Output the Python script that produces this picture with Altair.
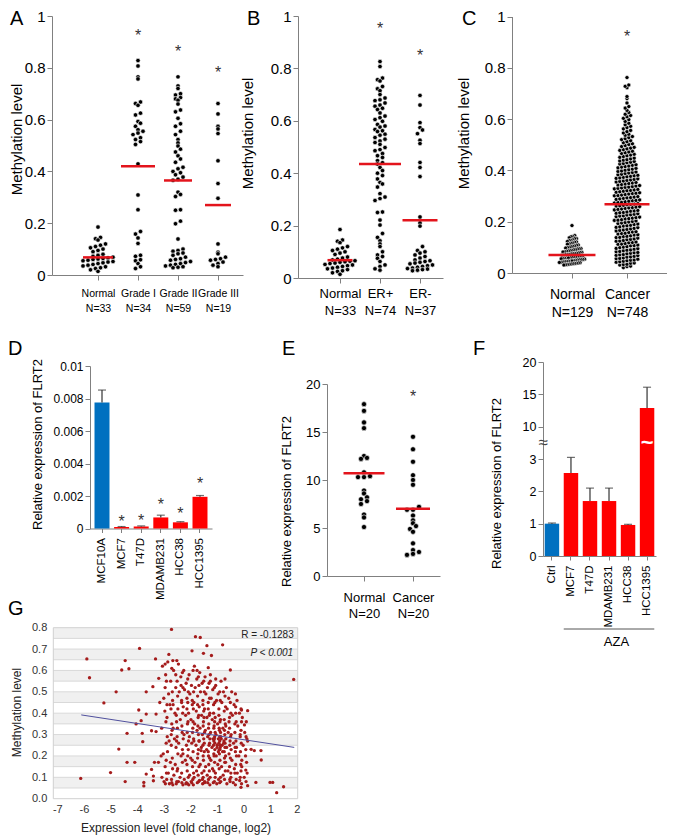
import json
import altair as alt
import pandas as pd

# ============================ DATA ============================
# ---- Panel A : methylation by grade
a_labels = ["Normal", "Grade I", "Grade II", "Grade III"]
a_counts = ["N=33", "N=34", "N=59", "N=19"]
a_normal = [0.185, 0.145, 0.14, 0.135, 0.12, 0.115, 0.11, 0.105, 0.10, 0.095, 0.09,
            0.08, 0.076, 0.072, 0.069, 0.066, 0.064, 0.062, 0.06, 0.057, 0.055, 0.052,
            0.05, 0.047, 0.044, 0.041, 0.038, 0.035, 0.032, 0.028, 0.025, 0.02, 0.014]
a_grade1 = [0.828, 0.807, 0.765, 0.757, 0.668, 0.662, 0.655, 0.625, 0.618, 0.593,
            0.586, 0.574, 0.561, 0.555, 0.548, 0.542, 0.53, 0.523, 0.515, 0.504,
            0.429, 0.309, 0.252, 0.168, 0.158, 0.143, 0.122, 0.076, 0.072, 0.059,
            0.055, 0.044, 0.032, 0.025]
a_grade2 = [0.765, 0.73, 0.72, 0.70, 0.695, 0.685, 0.68, 0.675, 0.66, 0.637,
            0.63, 0.605, 0.584, 0.574, 0.555, 0.542, 0.523, 0.51, 0.498, 0.486,
            0.475, 0.46, 0.448, 0.435, 0.416, 0.41, 0.40, 0.395, 0.387, 0.378,
            0.37, 0.366, 0.32, 0.311, 0.303, 0.252, 0.25, 0.208, 0.198, 0.139,
            0.10, 0.095, 0.092, 0.085, 0.082, 0.076, 0.069, 0.063, 0.06, 0.057,
            0.052, 0.048, 0.044, 0.041, 0.038, 0.035, 0.032, 0.03, 0.028]
a_grade3 = [0.662, 0.622, 0.574, 0.564, 0.546, 0.441, 0.353, 0.296, 0.12, 0.088,
            0.082, 0.069, 0.063, 0.06, 0.057, 0.05, 0.044, 0.038, 0.032]
a_lines = [0.068, 0.42, 0.365, 0.27]
a_stars = [None, 0.94, 0.875, 0.795]

# ---- Panel B : methylation by ER status
b_labels = ["Normal", "ER+", "ER-"]
b_counts = ["N=33", "N=74", "N=37"]
b_normal = a_normal
b_erpos = [0.826, 0.807, 0.763, 0.757, 0.752, 0.731, 0.722, 0.715, 0.70, 0.687,
           0.68, 0.677, 0.668, 0.66, 0.656, 0.648, 0.643, 0.63, 0.618, 0.612,
           0.605, 0.598, 0.586, 0.58, 0.576, 0.567, 0.562, 0.559, 0.549, 0.545,
           0.536, 0.53, 0.523, 0.517, 0.51, 0.498, 0.49, 0.486, 0.475, 0.467,
           0.46, 0.448, 0.44, 0.435, 0.422, 0.41, 0.40, 0.391, 0.378, 0.365,
           0.359, 0.347, 0.322, 0.309, 0.303, 0.296, 0.252, 0.25, 0.221, 0.202,
           0.17, 0.155, 0.142, 0.13, 0.12, 0.10, 0.088, 0.082, 0.075, 0.063,
           0.05, 0.044, 0.035, 0.03]
b_erneg = [0.697, 0.66, 0.593, 0.574, 0.565, 0.551, 0.526, 0.513, 0.441, 0.422,
           0.387, 0.233, 0.21, 0.198, 0.12, 0.105, 0.10, 0.095, 0.088, 0.082,
           0.076, 0.069, 0.066, 0.063, 0.06, 0.057, 0.054, 0.05, 0.047, 0.044,
           0.041, 0.038, 0.036, 0.034, 0.032, 0.03, 0.028]
b_lines = [0.068, 0.435, 0.22]
b_stars = [None, 0.966, 0.864]

# ---- Panel C : normal vs cancer methylation
c_labels = ["Normal", "Cancer"]
c_counts = ["N=129", "N=748"]
c_normal = [0.185, 0.146, 0.142, 0.141, 0.137, 0.134, 0.133, 0.129, 0.127, 0.126,
            0.123, 0.121, 0.12, 0.117, 0.116, 0.113, 0.112, 0.109, 0.108, 0.105,
            0.104, 0.102, 0.1, 0.099, 0.097, 0.095, 0.094, 0.093, 0.091, 0.09,
            0.088, 0.087, 0.086, 0.085, 0.083, 0.082, 0.081, 0.08, 0.078, 0.077,
            0.076, 0.075, 0.074, 0.072, 0.071, 0.07, 0.07, 0.069, 0.067, 0.066,
            0.065, 0.064, 0.063, 0.062, 0.061, 0.059, 0.058, 0.058, 0.057, 0.056,
            0.055, 0.054, 0.053, 0.052, 0.051, 0.05, 0.049, 0.048, 0.047, 0.047,
            0.046, 0.045, 0.044, 0.043, 0.042, 0.041, 0.04, 0.039, 0.038, 0.037,
            0.036, 0.035, 0.034, 0.033, 0.032, 0.031]
c_cancer = [0.021, 0.025, 0.027, 0.031, 0.033, 0.034, 0.038, 0.039, 0.042, 0.044, 0.046, 0.048,
            0.05, 0.051, 0.054, 0.056, 0.057, 0.059, 0.062, 0.063, 0.065, 0.068, 0.069, 0.071,
            0.072, 0.075, 0.077, 0.079, 0.08, 0.083, 0.084, 0.087, 0.089, 0.09, 0.093, 0.095,
            0.096, 0.099,
            0.101, 0.103, 0.106, 0.107, 0.109, 0.112, 0.113, 0.115, 0.118, 0.119, 0.121, 0.124,
            0.125, 0.127, 0.13, 0.131, 0.133, 0.136, 0.138, 0.139, 0.142, 0.143, 0.145, 0.148,
            0.149,
            0.152, 0.154, 0.155, 0.158, 0.16, 0.161, 0.164, 0.166, 0.168, 0.17, 0.172, 0.174,
            0.177, 0.178, 0.18, 0.183, 0.184, 0.186, 0.189, 0.191, 0.193, 0.195, 0.197, 0.199,
            0.201, 0.203, 0.205, 0.206, 0.208, 0.211, 0.212, 0.214, 0.216, 0.218, 0.22, 0.222,
            0.223, 0.226, 0.227, 0.229, 0.231, 0.233, 0.235, 0.236, 0.238, 0.241, 0.242, 0.244,
            0.246, 0.248,
            0.25, 0.252, 0.254, 0.255, 0.257, 0.259, 0.261, 0.262, 0.264, 0.266, 0.268, 0.269,
            0.271, 0.273, 0.275, 0.276, 0.278, 0.28, 0.282, 0.283, 0.285, 0.287, 0.289, 0.291,
            0.293, 0.294, 0.296, 0.298,
            0.301, 0.302, 0.304, 0.306, 0.308, 0.31, 0.311, 0.313, 0.315, 0.317, 0.319, 0.321,
            0.322, 0.324, 0.326, 0.328, 0.33, 0.332, 0.334, 0.335, 0.337, 0.339, 0.341, 0.343,
            0.345, 0.347, 0.349,
            0.351, 0.353, 0.355, 0.357, 0.359, 0.361, 0.363, 0.365, 0.367, 0.369, 0.371, 0.373,
            0.375, 0.377, 0.379, 0.381, 0.383, 0.385, 0.388, 0.39, 0.392, 0.394, 0.396, 0.398,
            0.401, 0.403, 0.405, 0.408, 0.41, 0.413, 0.415, 0.417, 0.42, 0.422, 0.425, 0.427,
            0.43, 0.432, 0.435, 0.437, 0.44, 0.442, 0.445, 0.448,
            0.451, 0.454, 0.457, 0.46, 0.463, 0.466, 0.469, 0.472, 0.475, 0.478, 0.481, 0.484,
            0.487, 0.49, 0.493, 0.497,
            0.501, 0.504, 0.508, 0.512, 0.516, 0.52, 0.524, 0.528, 0.532, 0.537, 0.541, 0.546,
            0.551, 0.556, 0.562, 0.567, 0.572, 0.578, 0.584, 0.591, 0.598,
            0.603, 0.609, 0.614, 0.619, 0.626, 0.634, 0.643, 0.649,
            0.663, 0.68, 0.688, 0.722, 0.728, 0.733, 0.762]
c_lines = [0.07, 0.268]
c_stars = [None, 0.935]

# ---- Panel D : FLRT2 expression in cell lines
d_cells = ["MCF10A", "MCF7", "T47D", "MDAMB231", "HCC38", "HCC1395"]
d_values = [0.00775, 0.0001, 0.00013, 0.00068, 0.00038, 0.00195]
d_upper = [0.00852, 0.00012, 0.00016, 0.00082, 0.00042, 0.00203]
d_stars = [None, 0.00067, 0.0007, 0.00167, 0.00116, 0.00296]

# ---- Panel E : FLRT2 expression normal vs cancer
e_labels = ["Normal", "Cancer"]
e_counts = ["N=20", "N=20"]
e_normal = [17.9, 17.2, 16.0, 15.4, 12.5, 12.3, 12.2, 10.8, 10.4, 10.3, 10.3,
            8.9, 8.6, 8.2, 8.0, 7.8, 7.5, 6.4, 6.1, 5.1]
e_cancer = [14.5, 13.2, 11.9, 10.5, 10.0, 9.5, 7.2, 6.9, 6.9, 6.3, 5.8, 5.5,
            5.2, 4.9, 4.6, 3.4, 2.7, 2.5, 2.3, 2.2]
e_lines = [10.7, 7.0]
e_stars = [None, 19.1]

# ---- Panel F : FLRT2 expression after AZA
f_cells = ["Ctrl", "MCF7", "T47D", "MDAMB231", "HCC38", "HCC1395"]
f_values = [1.0, 2.57, 1.7, 1.7, 0.96, 12.9]
f_upper = [1.02, 3.05, 2.1, 2.1, 0.98, 16.1]
f_ticks = [0, 1, 2, 3, 10, 15, 20]
f_group = "AZA"

# ---- Panel G : methylation vs expression scatter
g_points = [
    (-6.12, 0.095), (-5.89, 0.654), (-5.79, 0.566), (-5.25, 0.448), (-5.0, 0.122),
    (-4.79, 0.50), (-4.69, 0.232), (-4.58, 0.602), (-4.45, 0.646), (-4.45, 0.08),
    (-4.38, 0.306), (-4.38, 0.17), (-4.31, 0.608), (-4.09, 0.17), (-3.91, 0.703),
    (-3.94, 0.415), (-4.04, 0.35), (-3.85, 0.365), (-3.81, 0.306), (-3.79, 0.267),
    (-3.66, 0.50), (-3.66, 0.396), (-3.75, 0.076), (-3.75, 0.06), (-3.41, 0.524),
    (-3.31, 0.654), (-3.29, 0.396), (-3.29, 0.314), (-3.46, 0.318), (-3.19, 0.563),
    (-3.35, 0.17), (-3.46, 0.137), (-3.66, 0.115), (-3.39, 0.106), (-3.39, 0.084),
    (-2.71, 0.792), (-2.81, 0.675), (-2.66, 0.646), (-2.51, 0.646), (-2.95, 0.63),
    (-1.81, 0.758), (-1.63, 0.754), (-1.94, 0.692), (-1.38, 0.716), (-1.51, 0.68),
    (-1.21, 0.67), (-0.79, 0.72), (-0.5, 0.602), (-1.33, 0.613), (0.03, 0.345),
    (0.09, 0.29), (-0.08, 0.415), (-0.31, 0.49), (0.15, 0.412), (0.28, 0.231),
    (0.4, 0.225), (0.65, 0.225), (0.66, 0.181), (0.46, 0.076), (0.15, 0.061),
    (-0.1, 0.053), (0.08, 0.134), (0.99, 0.076), (1.09, 0.076), (1.5, 0.056),
    (1.24, 0.028), (1.88, 0.558),
    (-3.05, 0.62), (-2.93, 0.58), (-3.0, 0.47), (-2.96, 0.41), (-3.08, 0.33), (-2.91, 0.26),
    (-3.02, 0.21), (-2.95, 0.15), (-3.07, 0.10), (-2.99, 0.08), (-2.94, 0.07),
    (-2.85, 0.64), (-2.74, 0.55), (-2.82, 0.49), (-2.77, 0.44), (-2.88, 0.38), (-2.72, 0.30),
    (-2.8, 0.27), (-2.86, 0.22), (-2.75, 0.17), (-2.83, 0.12), (-2.71, 0.09), (-2.79, 0.07),
    (-2.63, 0.60), (-2.55, 0.52), (-2.67, 0.46), (-2.58, 0.40), (-2.52, 0.36), (-2.65, 0.33),
    (-2.6, 0.28), (-2.54, 0.24), (-2.68, 0.19), (-2.57, 0.16), (-2.62, 0.11), (-2.51, 0.08),
    (-2.66, 0.065),
    (-2.45, 0.63), (-2.36, 0.57), (-2.42, 0.50), (-2.33, 0.45), (-2.47, 0.42), (-2.38, 0.37),
    (-2.31, 0.31), (-2.44, 0.26), (-2.35, 0.20), (-2.48, 0.14), (-2.39, 0.10), (-2.32, 0.075),
    (-2.25, 0.60), (-2.16, 0.54), (-2.22, 0.51), (-2.13, 0.47), (-2.27, 0.43), (-2.18, 0.39),
    (-2.11, 0.35), (-2.24, 0.30), (-2.15, 0.25), (-2.28, 0.21), (-2.19, 0.18), (-2.12, 0.13),
    (-2.23, 0.09), (-2.17, 0.07),
    (-2.05, 0.58), (-1.96, 0.53), (-2.02, 0.49), (-1.93, 0.44), (-2.07, 0.40), (-1.98, 0.37),
    (-1.91, 0.33), (-2.04, 0.29), (-1.95, 0.26), (-2.08, 0.23), (-1.99, 0.19), (-1.92, 0.15),
    (-2.03, 0.11), (-1.97, 0.08), (-2.06, 0.065),
    (-1.85, 0.62), (-1.76, 0.56), (-1.82, 0.52), (-1.73, 0.48), (-1.87, 0.45), (-1.78, 0.41),
    (-1.71, 0.38), (-1.84, 0.35), (-1.75, 0.32), (-1.88, 0.28), (-1.79, 0.25), (-1.72, 0.21),
    (-1.83, 0.17), (-1.77, 0.13), (-1.86, 0.10), (-1.74, 0.075),
    (-1.65, 0.59), (-1.56, 0.54), (-1.62, 0.50), (-1.53, 0.46), (-1.67, 0.43), (-1.58, 0.39),
    (-1.51, 0.36), (-1.64, 0.33), (-1.55, 0.30), (-1.68, 0.27), (-1.59, 0.24), (-1.52, 0.20),
    (-1.63, 0.16), (-1.57, 0.12), (-1.66, 0.085), (-1.54, 0.07),
    (-1.45, 0.57), (-1.36, 0.52), (-1.42, 0.49), (-1.33, 0.45), (-1.47, 0.42), (-1.38, 0.38),
    (-1.31, 0.35), (-1.44, 0.32), (-1.35, 0.29), (-1.48, 0.26), (-1.39, 0.23), (-1.32, 0.20),
    (-1.43, 0.15), (-1.37, 0.11), (-1.46, 0.08),
    (-1.25, 0.55), (-1.16, 0.51), (-1.22, 0.47), (-1.13, 0.44), (-1.27, 0.40), (-1.18, 0.37),
    (-1.11, 0.34), (-1.24, 0.31), (-1.15, 0.28), (-1.28, 0.26), (-1.19, 0.24), (-1.12, 0.21),
    (-1.23, 0.18), (-1.17, 0.14), (-1.26, 0.10), (-1.14, 0.075),
    (-1.05, 0.53), (-0.96, 0.49), (-1.02, 0.46), (-0.93, 0.42), (-1.07, 0.38), (-0.98, 0.35),
    (-0.91, 0.32), (-1.04, 0.30), (-0.95, 0.28), (-1.08, 0.26), (-0.99, 0.25), (-0.92, 0.23),
    (-1.03, 0.20), (-0.97, 0.16), (-1.06, 0.12), (-0.94, 0.09), (-1.01, 0.07),
    (-0.85, 0.55), (-0.76, 0.50), (-0.82, 0.45), (-0.73, 0.41), (-0.87, 0.37), (-0.78, 0.33),
    (-0.71, 0.30), (-0.84, 0.28), (-0.75, 0.26), (-0.88, 0.24), (-0.79, 0.22), (-0.72, 0.19),
    (-0.83, 0.15), (-0.77, 0.11), (-0.86, 0.08),
    (-0.65, 0.52), (-0.56, 0.47), (-0.62, 0.42), (-0.53, 0.38), (-0.67, 0.34), (-0.58, 0.31),
    (-0.51, 0.27), (-0.64, 0.24), (-0.55, 0.21), (-0.68, 0.17), (-0.59, 0.13), (-0.52, 0.09),
    (-0.63, 0.07),
    (-0.45, 0.50), (-0.36, 0.44), (-0.42, 0.39), (-0.33, 0.35), (-0.47, 0.30), (-0.38, 0.26),
    (-0.31, 0.22), (-0.44, 0.18), (-0.35, 0.14), (-0.48, 0.10), (-0.39, 0.075),
    (-0.25, 0.46), (-0.16, 0.40), (-0.22, 0.34), (-0.13, 0.29), (-0.27, 0.24), (-0.18, 0.20),
    (-0.11, 0.16), (-0.24, 0.12), (-0.15, 0.085),
    (-0.05, 0.38), (0.04, 0.31), (-0.02, 0.25), (0.07, 0.20), (-0.07, 0.15), (0.02, 0.10),
    (-1.09, 0.29), (-0.9, 0.27), (-0.81, 0.25), (-1.0, 0.24), (-0.86, 0.29), (-0.74, 0.27),
    (-0.95, 0.22), (-1.12, 0.27), (-0.7, 0.24), (-0.89, 0.23),
    (-1.9, 0.36), (-1.7, 0.30), (-2.3, 0.23), (-2.5, 0.29), (-1.5, 0.41), (-1.3, 0.30),
    (-2.1, 0.45), (-2.7, 0.35), (-1.6, 0.225), (-2.35, 0.53),
    (-1.95, 0.075), (-2.45, 0.08), (-1.35, 0.075), (-2.15, 0.075), (-1.55, 0.09), (-2.9, 0.12),
    (-2.65, 0.44), (-0.55, 0.36), (-0.3, 0.4), (-1.25, 0.58),
    (-1.05, 0.56), (-0.7, 0.56), (-2.55, 0.58), (-1.75, 0.6), (-2.95, 0.52), (-3.15, 0.45),
    (-3.2, 0.17), (-3.1, 0.2), (-0.1, 0.32), (0.15, 0.27),
    (-2.9, 0.55), (-2.88, 0.44), (-2.92, 0.36), (-2.87, 0.29), (-2.91, 0.18), (-2.89, 0.09),
    (-2.7, 0.61), (-2.68, 0.5), (-2.73, 0.42), (-2.69, 0.32), (-2.72, 0.25), (-2.67, 0.14),
    (-2.7, 0.075),
    (-2.5, 0.55), (-2.48, 0.48), (-2.53, 0.39), (-2.49, 0.33), (-2.52, 0.27), (-2.47, 0.21),
    (-2.5, 0.13), (-2.53, 0.07),
    (-2.3, 0.59), (-2.28, 0.52), (-2.33, 0.46), (-2.29, 0.4), (-2.32, 0.34), (-2.27, 0.28),
    (-2.3, 0.17), (-2.33, 0.12), (-2.28, 0.065),
    (-2.1, 0.56), (-2.08, 0.5), (-2.13, 0.42), (-2.09, 0.36), (-2.12, 0.31), (-2.07, 0.27),
    (-2.1, 0.2), (-2.13, 0.16), (-2.08, 0.1), (-2.11, 0.07),
    (-1.9, 0.6), (-1.88, 0.5), (-1.93, 0.46), (-1.89, 0.42), (-1.92, 0.31), (-1.87, 0.27),
    (-1.9, 0.22), (-1.93, 0.18), (-1.88, 0.12), (-1.91, 0.09), (-1.89, 0.065),
    (-1.7, 0.57), (-1.68, 0.53), (-1.73, 0.44), (-1.69, 0.39), (-1.72, 0.34), (-1.67, 0.27),
    (-1.7, 0.23), (-1.73, 0.19), (-1.68, 0.15), (-1.71, 0.11), (-1.69, 0.08),
    (-1.5, 0.55), (-1.48, 0.5), (-1.53, 0.44), (-1.49, 0.38), (-1.52, 0.34), (-1.47, 0.31),
    (-1.5, 0.28), (-1.53, 0.25), (-1.48, 0.22), (-1.51, 0.18), (-1.49, 0.13), (-1.52, 0.1),
    (-1.47, 0.075),
    (-1.3, 0.54), (-1.28, 0.47), (-1.33, 0.42), (-1.29, 0.39), (-1.32, 0.33), (-1.27, 0.28),
    (-1.3, 0.25), (-1.33, 0.22), (-1.28, 0.19), (-1.31, 0.16), (-1.29, 0.13), (-1.32, 0.09),
    (-1.27, 0.065),
    (-1.1, 0.52), (-1.08, 0.45), (-1.13, 0.4), (-1.09, 0.36), (-1.12, 0.33), (-1.07, 0.31),
    (-1.1, 0.28), (-1.13, 0.25), (-1.08, 0.23), (-1.11, 0.2), (-1.09, 0.17), (-1.12, 0.13),
    (-1.07, 0.1), (-1.1, 0.08),
    (-0.9, 0.5), (-0.88, 0.46), (-0.93, 0.39), (-0.89, 0.36), (-0.92, 0.33), (-0.87, 0.31),
    (-0.9, 0.29), (-0.93, 0.26), (-0.88, 0.25), (-0.91, 0.21), (-0.89, 0.18), (-0.92, 0.14),
    (-0.87, 0.1), (-0.9, 0.075),
    (-0.7, 0.48), (-0.68, 0.43), (-0.73, 0.37), (-0.69, 0.35), (-0.72, 0.32), (-0.67, 0.28),
    (-0.7, 0.26), (-0.73, 0.22), (-0.68, 0.2), (-0.71, 0.17), (-0.69, 0.13), (-0.72, 0.09),
    (-0.5, 0.45), (-0.48, 0.4), (-0.53, 0.33), (-0.49, 0.29), (-0.52, 0.25), (-0.47, 0.23),
    (-0.5, 0.19), (-0.53, 0.15), (-0.48, 0.12), (-0.51, 0.08),
    (-0.3, 0.43), (-0.28, 0.36), (-0.33, 0.31), (-0.29, 0.27), (-0.32, 0.24), (-0.27, 0.2),
    (-0.3, 0.16), (-0.33, 0.12), (-0.28, 0.09), (-0.31, 0.065),
    (-0.1, 0.42), (-0.08, 0.36), (-0.13, 0.3), (-0.09, 0.26), (-0.12, 0.22), (-0.07, 0.18),
    (-0.1, 0.13), (-0.13, 0.1), (-0.08, 0.07),
    (0.1, 0.36), (0.12, 0.28), (0.08, 0.23), (0.11, 0.17), (0.13, 0.12), (0.09, 0.08),
]
g_trend_x = [-6.1, 1.9]
g_trend_y = [0.392, 0.240]
g_r_text = "R = -0.1283"
g_p_text = "P < 0.001"

# ============================ STYLE / LAYOUT ============================
W, H = 659, 828
FONT = "Liberation Sans, Arial, Helvetica, sans-serif"
AX = "#808080"
MED_RED = "#E3141C"
BAR_RED = "#FF0000"
BAR_BLUE = "#0070C0"
DOT_RED = "#A51C1C"
ERR = "#333333"


def dot_panel(groups, labels, counts, lines, stars, lay):
    x0, x1 = lay["xr"]
    d0, d1 = lay["xd"]
    y0, y1 = lay["yr"]
    e0, e1 = lay["yd"]
    pxu = (x1 - x0) / (d1 - d0)
    pyu = (y0 - y1) / (e1 - e0)
    row_h = lay["row_px"] / pyu
    gaps = [g / pxu for g in lay["gap_px"]]
    halfw = [w / 2 / pxu for w in lay["med_px"]]
    sx = alt.Scale(domain=[d0, d1], range=[x0, x1], nice=False, zero=False)
    sy = alt.Scale(domain=[e0, e1], range=[y0, y1], nice=False, zero=False)
    pairs = [[a, b] for a, b in zip(labels, counts)]
    xaxis = alt.Axis(orient="bottom", offset=y0 - H, values=list(range(len(labels))),
                     labelExpr=json.dumps(pairs) + "[datum.value]", title=None,
                     labelFontSize=lay["xfs"], labelLineHeight=lay["xlh"],
                     labelPadding=lay["xpad"], tickSize=5, domainColor=AX, tickColor=AX,
                     labelColor="black")
    yaxis = alt.Axis(orient="left", offset=-x0, values=lay["yticks"], format=lay["yfmt"],
                     title=lay["ytitle"], titleX=lay["tx"] - x0, titleY=lay["ty"],
                     titleBaseline="middle", titleFontSize=lay["tfs"], titleColor="black",
                     titleLimit=400, labelFontSize=lay["yfs"], labelColor="black",
                     tickSize=5, domainColor=AX, tickColor=AX)

    def X(f):
        return alt.X(f, scale=sx, axis=xaxis)

    def Y(f):
        return alt.Y(f, scale=sy, axis=yaxis)

    df = pd.DataFrame([{"i": i, "v": v} for i, vals in enumerate(groups) for v in vals])
    dots = (alt.Chart(df)
            .transform_calculate(row=f"floor(datum.v / {row_h})")
            .transform_window(k="row_number()", groupby=["i", "row"], sort=[alt.SortField("v")])
            .transform_joinaggregate(n="count()", groupby=["i", "row"])
            .transform_calculate(xp=f"datum.i + (datum.k - 1 - (datum.n - 1) / 2) * {json.dumps(gaps)}[datum.i]")
            .mark_circle(size=lay["dot"], color="black", opacity=1, stroke="white", strokeWidth=0.6)
            .encode(x=X("xp:Q"), y=Y("v:Q")))
    mdf = pd.DataFrame({"i": list(range(len(lines))), "m": lines})
    med = (alt.Chart(mdf)
           .transform_calculate(xa=f"datum.i - {json.dumps(halfw)}[datum.i]",
                                xb=f"datum.i + {json.dumps(halfw)}[datum.i]")
           .mark_rule(color=MED_RED, strokeWidth=2.5)
           .encode(x=X("xa:Q"), x2="xb:Q", y=Y("m:Q")))
    sdf = pd.DataFrame({"i": [i for i, s in enumerate(stars) if s is not None],
                        "s": [s for s in stars if s is not None]})
    star = (alt.Chart(sdf).mark_text(text="*", fontSize=16, dy=4, color="#333333")
            .encode(x=X("i:Q"), y=Y("s:Q")))
    return alt.layer(dots, med, star)


LAY_A = dict(xr=[44, 235], xd=[-1.15, 3.625], yr=[267, 8], yd=[0, 1], row_px=4.5,
             gap_px=[5, 5, 5, 5], med_px=[30, 34, 28, 26], dot=20, xfs=10.5, xlh=15, xpad=8,
             yticks=[0, 0.2, 0.4, 0.6, 0.8, 1], yfmt="~g", ytitle="Methylation level",
             tx=8.5, ty=131, tfs=15, yfs=15)
LAY_B = dict(xr=[290, 435], xd=[-1.05, 2.575], yr=[270, 8], yd=[0, 1], row_px=4.5,
             gap_px=[5, 5, 5], med_px=[25, 42, 35], dot=20, xfs=13, xlh=17, xpad=4,
             yticks=[0, 0.2, 0.4, 0.6, 0.8, 1], yfmt="~g", ytitle="Methylation level",
             tx=239.5, ty=125, tfs=15, yfs=15)
LAY_C = dict(xr=[504, 659], xd=[-1.09, 1.727], yr=[265, 8.5], yd=[0, 1], row_px=3.5,
             gap_px=[1.8, 3.6], med_px=[47, 45], dot=17, xfs=14, xlh=18, xpad=9,
             yticks=[0, 0.2, 0.4, 0.6, 0.8, 1], yfmt="~g", ytitle="Methylation level",
             tx=455, ty=125, tfs=15, yfs=15)
LAY_E = dict(xr=[319, 432], xd=[-0.755, 1.551], yr=[568, 376], yd=[0, 20], row_px=5,
             gap_px=[6, 6], med_px=[41, 34], dot=26, xfs=13, xlh=16.5, xpad=10,
             yticks=[0, 5, 10, 15, 20], yfmt="d", ytitle="Relative expression of FLRT2",
             tx=278, ty=493, tfs=13, yfs=13)

panel_a = dot_panel([a_normal, a_grade1, a_grade2, a_grade3], a_labels, a_counts, a_lines, a_stars, LAY_A)
panel_b = dot_panel([b_normal, b_erpos, b_erneg], b_labels, b_counts, b_lines, b_stars, LAY_B)
panel_c = dot_panel([c_normal, c_cancer], c_labels, c_counts, c_lines, c_stars, LAY_C)
panel_e = dot_panel([e_normal, e_cancer], e_labels, e_counts, e_lines, e_stars, LAY_E)

# ---------------- Panel D ----------------
sxd = alt.Scale(domain=d_cells, range=[82, 204], paddingInner=0.235, paddingOuter=0.23)
syd = alt.Scale(domain=[0, 0.01], range=[520.5, 358], nice=False)
xad = alt.Axis(orient="bottom", offset=520.5 - H, labelAngle=-90, title=None, labelFontSize=11.5,
               tickSize=4, labelPadding=5, domainColor=AX, tickColor=AX, labelColor="black")
yad = alt.Axis(orient="left", offset=-82, values=[0, 0.002, 0.004, 0.006, 0.008, 0.01], format="~g",
               title="Relative expression of FLRT2", titleX=29 - 82, titleY=436,
               titleBaseline="middle", titleFontSize=13, titleColor="black", titleLimit=400,
               labelFontSize=12, labelColor="black", tickSize=5, domainColor=AX, tickColor=AX)
d_df = pd.DataFrame({"c": d_cells, "v": d_values, "e": d_upper})
XD = alt.X("c:N", scale=sxd, axis=xad)


def YD(f):
    return alt.Y(f, scale=syd, axis=yad)


d_blue = (alt.Chart(d_df).transform_filter(alt.datum.c == d_cells[0])
          .mark_bar(color=BAR_BLUE).encode(x=XD, y=YD("v:Q"), y2=alt.Y2Datum(0)))
d_red = (alt.Chart(d_df).transform_filter(alt.datum.c != d_cells[0])
         .mark_bar(color=BAR_RED).encode(x=XD, y=YD("v:Q"), y2=alt.Y2Datum(0)))
d_err = alt.Chart(d_df).mark_rule(color=ERR, strokeWidth=1.2).encode(x=XD, y=YD("v:Q"), y2="e:Q")
d_cap = alt.Chart(d_df).mark_tick(color=ERR, size=8, thickness=1.2).encode(x=XD, y=YD("e:Q"))
d_sdf = pd.DataFrame({"c": [c for c, s in zip(d_cells, d_stars) if s is not None],
                      "s": [s for s in d_stars if s is not None]})
d_star = alt.Chart(d_sdf).mark_text(text="*", fontSize=16, dy=4, color="#333333").encode(x=XD, y=YD("s:Q"))
panel_d = alt.layer(d_blue, d_red, d_err, d_cap, d_star)

# ---------------- Panel F (broken axis) ----------------
F_EXPR = "{f} < 3.5 ? {f} : 4 + ({f} - 10) / 5"


def f_pos(v):
    return v if v < 3.5 else 4 + (v - 10) / 5


f_tick_pos = [f_pos(t) for t in f_ticks]
f_break = (f_pos(3) + f_pos(10)) / 2
sxf = alt.Scale(domain=f_cells, range=[535, 648], paddingInner=0.24, paddingOuter=0.09)
syf = alt.Scale(domain=[0, f_tick_pos[-1]], range=[548, 354], nice=False)
xaf = alt.Axis(orient="bottom", offset=548 - H, labelAngle=-90, title=f_group, titleX=608,
               titleY=85, titleBaseline="middle", titleFontSize=13, titleColor="black",
               labelFontSize=11.5, tickSize=4, labelPadding=5, domainColor=AX, tickColor=AX,
               labelColor="black")
yaf = alt.Axis(orient="left", offset=-535, values=f_tick_pos,
               labelExpr=json.dumps([str(t) for t in f_ticks]) + "[datum.value]",
               title="Relative expression of FLRT2", titleX=488 - 535, titleY=475,
               titleBaseline="middle", titleFontSize=13, titleColor="black", titleLimit=400,
               labelFontSize=12.5, labelColor="black", tickSize=5, domainColor=AX, tickColor=AX)
f_df = pd.DataFrame({"c": f_cells, "v": f_values, "e": f_upper})
XF = alt.X("c:N", scale=sxf, axis=xaf)


def YF(f):
    return alt.Y(f, scale=syf, axis=yaf)


f_base = alt.Chart(f_df).transform_calculate(p=F_EXPR.format(f="datum.v"), pe=F_EXPR.format(f="datum.e"))
f_blue = (f_base.transform_filter(alt.datum.c == f_cells[0])
          .mark_bar(color=BAR_BLUE).encode(x=XF, y=YF("p:Q"), y2=alt.Y2Datum(0)))
f_red = (f_base.transform_filter(alt.datum.c != f_cells[0])
         .mark_bar(color=BAR_RED).encode(x=XF, y=YF("p:Q"), y2=alt.Y2Datum(0)))
f_err = f_base.mark_rule(color=ERR, strokeWidth=1.2).encode(x=XF, y=YF("p:Q"), y2="pe:Q")
f_cap = f_base.mark_tick(color=ERR, size=8, thickness=1.2).encode(x=XF, y=YF("pe:Q"))
brk_df = pd.DataFrame({"c": [f_cells[0]], "p": [f_break]})
f_axbreak = (alt.Chart(brk_df).mark_text(text="≈", fontSize=17, dx=-1.5, color="#444444", baseline="middle")
             .encode(x=alt.X("c:N", scale=sxf, axis=xaf, bandPosition=0), y=YF("p:Q")))
wave_df = pd.DataFrame({"c": [f_cells[-1]], "p": [f_break]})
f_wave = (alt.Chart(wave_df).mark_text(text="~", fontSize=22, fontWeight="bold", color="white", baseline="middle")
          .encode(x=XF, y=YF("p:Q")))
aza_df = pd.DataFrame({"a": [f_cells[1]], "b": [f_cells[-1]]})
f_aza = (alt.Chart(aza_df).mark_rule(color="#555555", strokeWidth=1)
         .encode(x=alt.X("a:N", scale=sxf, axis=xaf, bandPosition=0),
                 x2=alt.X2("b", bandPosition=1), y=alt.value(621)))
panel_f = alt.layer(f_blue, f_red, f_err, f_cap, f_wave, f_axbreak, f_aza)

# ---------------- Panel G ----------------
GX = [-7.15, 2.03]
sxg = alt.Scale(domain=GX, range=[45.3, 289.7], nice=False, zero=False)
syg = alt.Scale(domain=[0, 0.8], range=[790.7, 619.7], nice=False, zero=False)
xag = alt.Axis(orient="bottom", offset=790.7 - H, values=list(range(-7, 3)),
               labelExpr="'' + datum.value", domain=False, ticks=False, labelPadding=4.5,
               labelFontSize=11, labelColor="#333333", title="Expression level (fold change, log2)",
               titleFontSize=12, titleColor="#222222", titleY=28.3, titleBaseline="middle",
               titleLimit=400)
yag = alt.Axis(orient="left", offset=-45.3, values=[0, 0.1, 0.2, 0.3, 0.4, 0.5, 0.6, 0.7, 0.8],
               format=".1f", domain=False, ticks=False, labelPadding=6.5, labelFontSize=11,
               labelColor="#333333", title="Methylation level", titleFontSize=12,
               titleColor="#222222", titleX=8 - 45.3, titleY=704, titleBaseline="middle",
               titleLimit=400)


def XG(f):
    return alt.X(f, scale=sxg, axis=xag)


def YG(f):
    return alt.Y(f, scale=syg, axis=yag)


band_lo = [0.05, 0.15, 0.25, 0.35, 0.45, 0.55, 0.65, 0.75]
grid_at = [0.05, 0.1, 0.15, 0.2, 0.25, 0.3, 0.35, 0.4, 0.45, 0.5, 0.55, 0.6, 0.65, 0.7, 0.75]
bands_df = pd.DataFrame({"lo": band_lo, "hi": [b + 0.05 for b in band_lo], "x0": GX[0], "x1": GX[1]})
grid_df = pd.DataFrame({"g": grid_at, "x0": GX[0], "x1": GX[1]})
frame_df = pd.DataFrame({"lo": [0], "hi": [0.8], "x0": [GX[0]], "x1": [GX[1]]})
g_bands = alt.Chart(bands_df).mark_rect(color="#F0F0F0").encode(x=XG("x0:Q"), x2="x1:Q", y=YG("lo:Q"), y2="hi:Q")
g_grid = alt.Chart(grid_df).mark_rule(color="#D9D9D9", strokeWidth=1).encode(x=XG("x0:Q"), x2="x1:Q", y=YG("g:Q"))
g_frame = (alt.Chart(frame_df).mark_rect(fillOpacity=0, stroke="#D0D0D0", strokeWidth=1)
           .encode(x=XG("x0:Q"), x2="x1:Q", y=YG("lo:Q"), y2="hi:Q"))
g_df = pd.DataFrame(g_points, columns=["x", "y"])
g_dots = alt.Chart(g_df).mark_circle(size=11, color=DOT_RED, opacity=1).encode(x=XG("x:Q"), y=YG("y:Q"))
trend_df = pd.DataFrame({"x": g_trend_x, "y": g_trend_y})
g_trend = alt.Chart(trend_df).mark_line(color="#50509E", strokeWidth=1).encode(x=XG("x:Q"), y=YG("y:Q"))
r_df = pd.DataFrame({"x": [1.88], "y": [0.766], "t": [g_r_text]})
p_df = pd.DataFrame({"x": [1.86], "y": [0.683], "t": [g_p_text]})
g_r = (alt.Chart(r_df).mark_text(align="right", baseline="middle", fontSize=10, color="#222222")
       .encode(x=XG("x:Q"), y=YG("y:Q"), text="t:N"))
g_p = (alt.Chart(p_df).mark_text(align="right", baseline="middle", fontSize=10, fontStyle="italic", color="#222222")
       .encode(x=XG("x:Q"), y=YG("y:Q"), text="t:N"))
panel_g = alt.layer(g_bands, g_grid, g_frame, g_dots, g_trend, g_r, g_p)

# ---------------- Panel letters ----------------
LETTERS = [("A", 2, 16.5), ("B", 239, 16.5), ("C", 454, 16.5), ("D", 0, 347),
           ("E", 274, 347), ("F", 465, 347), ("G", 0, 607)]
letter_layers = [
    alt.Chart(pd.DataFrame({"t": [t]})).mark_text(fontSize=20, align="left", baseline="alphabetic", color="black")
    .encode(text="t:N", x=alt.value(x), y=alt.value(y))
    for t, x, y in LETTERS
]

chart = (alt.layer(panel_a, panel_b, panel_c, panel_d, panel_e, panel_f, panel_g, *letter_layers)
         .resolve_scale(x="independent", y="independent")
         .properties(width=W, height=H, padding=0, autosize=alt.AutoSizeParams(type="none"))
         .configure_view(stroke=None)
         .configure_axis(grid=False, labelFont=FONT, titleFont=FONT, labelFlush=False,
                         labelOverlap=False, titleFontWeight="normal")
         .configure_text(font=FONT))

chart.save("out.html", embed_options={"renderer": "svg", "actions": False})
